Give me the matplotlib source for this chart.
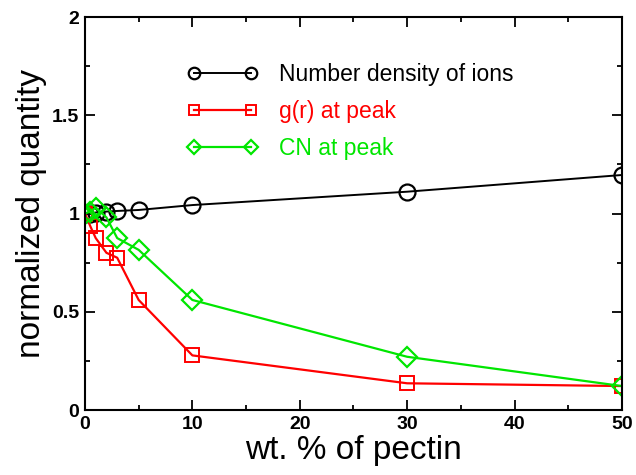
import matplotlib
matplotlib.use("Agg")
import matplotlib.pyplot as plt
from matplotlib.ticker import MultipleLocator, FuncFormatter

plt.rcParams['font.family'] = ['Liberation Sans', 'DejaVu Sans']

x = [0, 0.5, 1, 2, 3, 5, 10, 30, 50]
density = [1.0, 1.0, 1.005, 1.01, 1.013, 1.018, 1.043, 1.111, 1.196]
gr_peak = [1.0, 0.935, 0.875, 0.80, 0.775, 0.56, 0.278, 0.136, 0.122]
cn_peak = [1.0, 1.01, 1.03, 0.98, 0.875, 0.815, 0.56, 0.271, 0.122]

labels = ["Number density of ions", "g(r) at peak", "CN at peak"]
xticks = [0, 10, 20, 30, 40, 50]
yticks = [0, 0.5, 1, 1.5, 2]

fig = plt.figure(figsize=(6.36, 4.75), dpi=100)
ax = fig.add_axes([0.1336, 0.1368, 0.8443, 0.8274])

green = '#00e600'
ax.plot(x, density, color='black', lw=1.4, marker='o', ms=11.5, mfc='none',
        mec='black', mew=1.6, label=labels[0])
ax.plot(x, gr_peak, color='red', lw=1.6, marker='s', ms=10.5, mfc='none',
        mec='red', mew=1.4, label=labels[1])
ax.plot(x, cn_peak, color=green, lw=1.6, marker='D', ms=10, mfc='none',
        mec=green, mew=1.6, label=labels[2])

ax.set_xlim(0, 50)
ax.set_ylim(0, 2)
ax.set_xticks(xticks)
ax.set_yticks(yticks)
ax.xaxis.set_minor_locator(MultipleLocator(5))
ax.yaxis.set_minor_locator(MultipleLocator(0.25))
ax.yaxis.set_major_formatter(FuncFormatter(lambda v, p: f"{v:g}"))
ax.tick_params(which='both', direction='in', top=True, right=True, width=1.3)
ax.tick_params(which='major', length=7, labelsize=14, pad=4)
ax.tick_params(which='minor', length=3.6)
for lab in ax.get_xticklabels() + ax.get_yticklabels():
    lab.set_fontweight('bold')
for s in ax.spines.values():
    s.set_linewidth(1.5)

ax.set_xlabel("wt. % of pectin", fontsize=24, labelpad=2)
ax.set_ylabel("normalized quantity", fontsize=24, labelpad=4)

leg = ax.legend(loc='upper left', bbox_to_anchor=(0.19, 0.882), frameon=False,
                numpoints=2, markerscale=0.72, handlelength=3.1,
                handletextpad=0.9, labelspacing=0.6, borderpad=0,
                borderaxespad=0, fontsize=16.5, labelcolor='linecolor')

fig.savefig("out.png", dpi=100)
